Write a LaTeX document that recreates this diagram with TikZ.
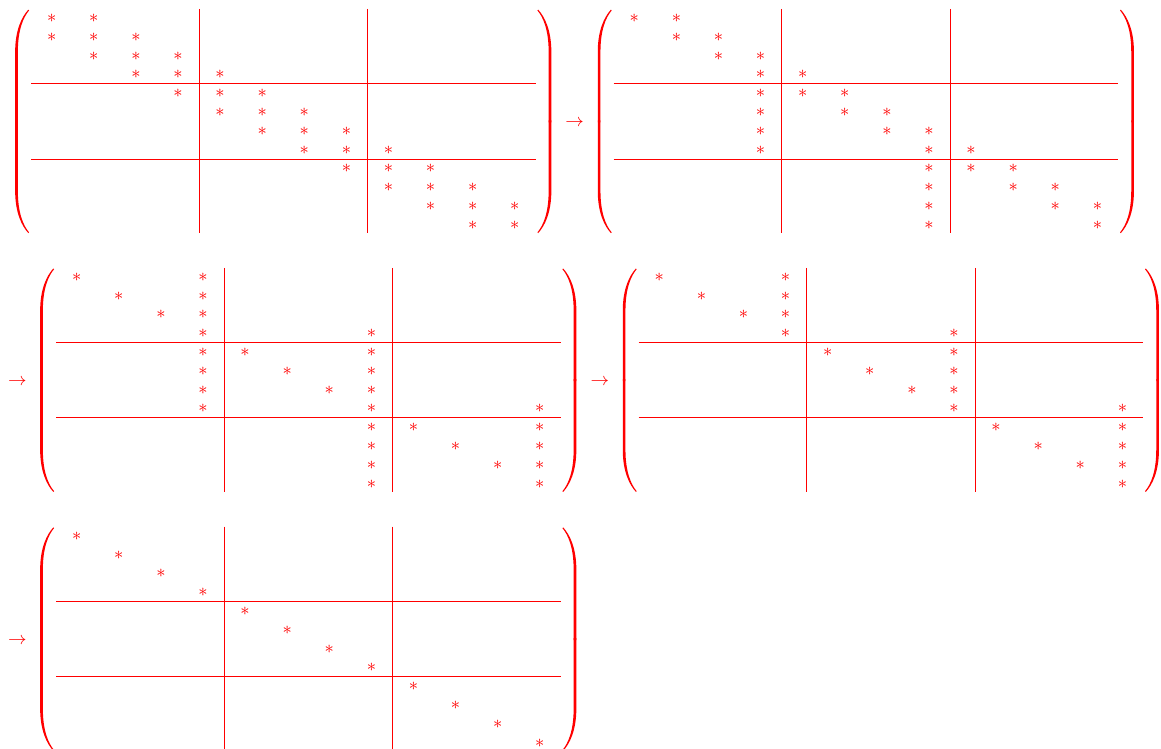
\documentclass[tikz,border=0pt]{standalone}
\begin{document}
\begin{tikzpicture}[x=0.5pt,y=-0.5pt,
  entry/.style={text=red, inner sep=0pt, anchor=base, font=\fontsize{9}{11}\selectfont},
  rulelines/.style={draw=red, line width=0.45pt}]
\useasboundingbox (0,0) rectangle (1161,749);
% half of a parenthesis (top-left piece), local coordinates
\newcommand\parenhalf{%
  \fill[red] (-23.4,-8.3) .. controls (-29.9,-1.2) and (-36.55,12) .. (-36.55,34)
     -- (-36.55,104.4) -- (-33.85,104.4) -- (-33.85,34)
     .. controls (-33.85,12) and (-28.5,-0.6) .. (-22.6,-7.6) -- cycle;}
% matrix frame: parens and partition lines
\newcommand\frameM{%
  \parenhalf
  \begin{scope}[shift={(0,206.8)},yscale=-1]\parenhalf\end{scope}
  \begin{scope}[shift={(463.1,0)},xscale=-1]\parenhalf\end{scope}
  \begin{scope}[shift={(463.1,206.8)},xscale=-1,yscale=-1]\parenhalf\end{scope}
  \draw[rulelines] (147.35,-9) -- (147.35,215.3);
  \draw[rulelines] (315.75,-9) -- (315.75,215.3);
  \draw[rulelines] (-20.7,65.8) -- (484.1,65.8);
  \draw[rulelines] (-20.7,141.0) -- (484.1,141.0);}
% stars: #1 name prefix, #2 list row/{cols}
\newcommand\starsM[2]{%
  \foreach \r/\cs in {#2}{%
    \foreach \c in \cs{%
      \node[entry] (#1-\r-\c) at ({(\c-1)*42.1},{(\r-1)*18.8+4.5}) {$\ast$};}}}

% Matrix A
\begin{scope}[shift={(51.7,18)}]
  \frameM
  \starsM{A}{1/{1,2},2/{1,2,3},3/{2,3,4},4/{3,4,5},5/{4,5,6},6/{5,6,7},7/{6,7,8},8/{7,8,9},9/{8,9,10},10/{9,10,11},11/{10,11,12},12/{11,12}}
\end{scope}
\node[entry] (arr1) at (574.5,126.2) {$\to$};
% Matrix B
\begin{scope}[shift={(634.3,18)}]
  \frameM
  \starsM{B}{1/{1,2},2/{2,3},3/{3,4},4/{4,5},5/{4,5,6},6/{4,6,7},7/{4,7,8},8/{4,8,9},9/{8,9,10},10/{8,10,11},11/{8,11,12},12/{8,12}}
\end{scope}
\node[entry] (arr2) at (17.3,385.2) {$\to$};
% Matrix C
\begin{scope}[shift={(76.7,276.8)}]
  \frameM
  \starsM{C}{1/{1,4},2/{2,4},3/{3,4},4/{4,8},5/{4,5,8},6/{4,6,8},7/{4,7,8},8/{4,8,12},9/{8,9,12},10/{8,10,12},11/{8,11,12},12/{8,12}}
\end{scope}
\node[entry] (arr3) at (599.8,385.2) {$\to$};
% Matrix D
\begin{scope}[shift={(659.3,276.8)}]
  \frameM
  \starsM{D}{1/{1,4},2/{2,4},3/{3,4},4/{4,8},5/{5,8},6/{6,8},7/{7,8},8/{8,12},9/{9,12},10/{10,12},11/{11,12},12/{12}}
\end{scope}
\node[entry] (arr4) at (17.3,644.2) {$\to$};
% Matrix E
\begin{scope}[shift={(76.7,535.7)}]
  \frameM
  \starsM{E}{1/{1},2/{2},3/{3},4/{4},5/{5},6/{6},7/{7},8/{8},9/{9},10/{10},11/{11},12/{12}}
\end{scope}
\end{tikzpicture}
\end{document}
